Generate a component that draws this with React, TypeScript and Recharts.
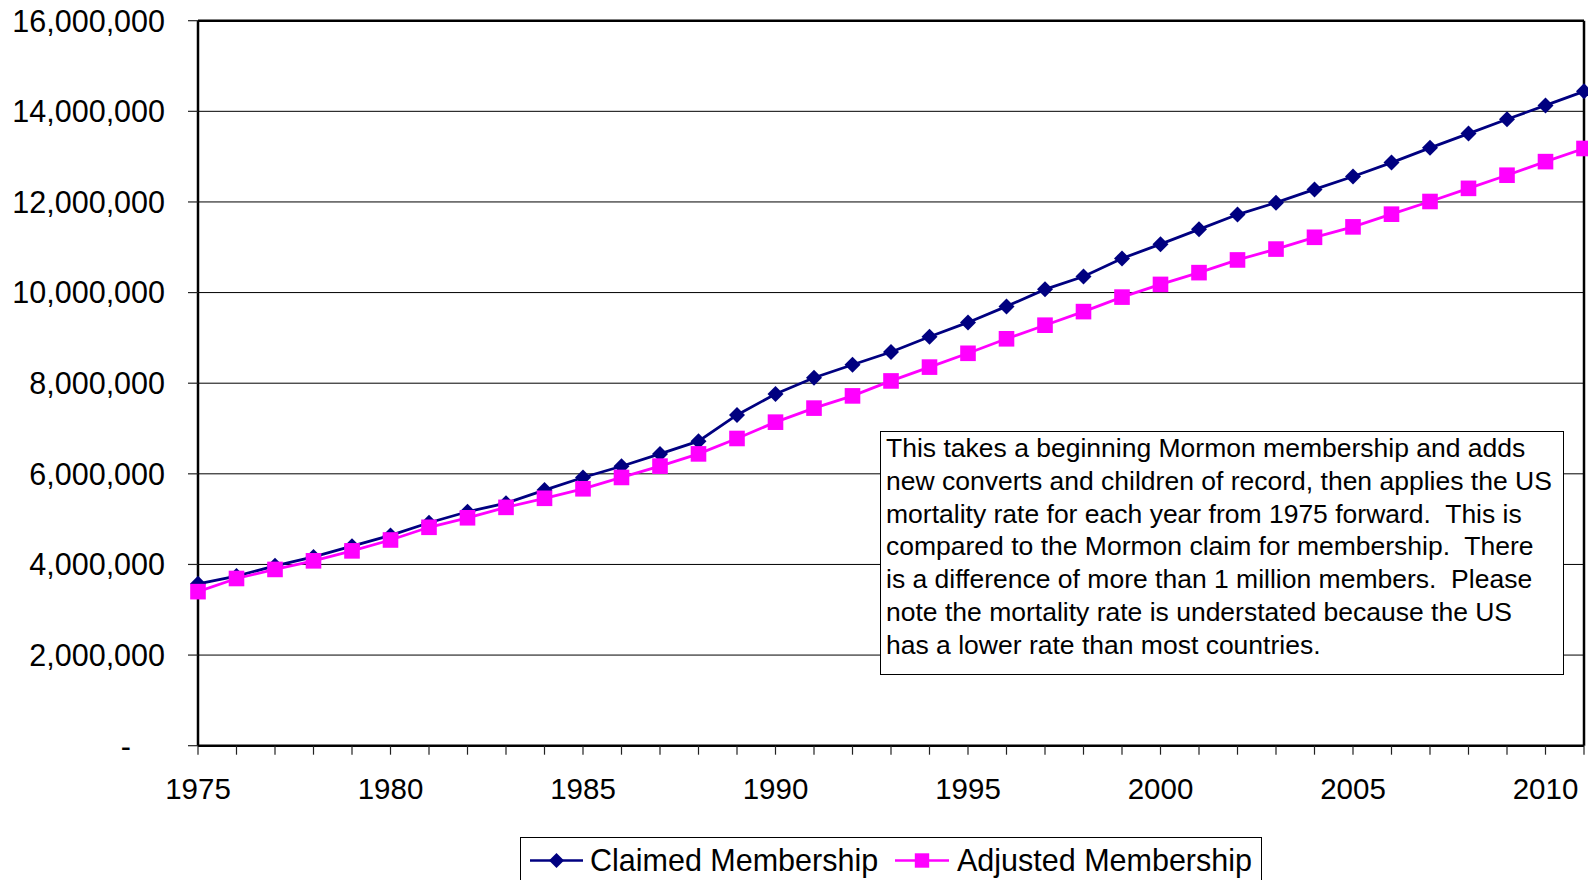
import React from "react";
import {
  CartesianGrid,
  Line,
  LineChart,
  ReferenceLine,
  XAxis,
  YAxis,
} from "recharts";

// years on the x axis
const years = [
  1975, 1976, 1977, 1978, 1979, 1980, 1981, 1982, 1983, 1984, 1985, 1986,
  1987, 1988, 1989, 1990, 1991, 1992, 1993, 1994, 1995, 1996, 1997, 1998,
  1999, 2000, 2001, 2002, 2003, 2004, 2005, 2006, 2007, 2008, 2009, 2010,
  2011,
];
const labelledYears = [1975, 1980, 1985, 1990, 1995, 2000, 2005, 2010];

const claimed = [
  3572000, 3743000, 3969000, 4167000, 4404000, 4640000, 4920000, 5163000,
  5352000, 5641000, 5919000, 6167000, 6440000, 6720000, 7300000, 7761000,
  8120000, 8407000, 8689000, 9026000, 9341000, 9695000, 10071000, 10354000,
  10753000, 11069000, 11395000, 11722000, 11985000, 12276000, 12561000,
  12869000, 13194000, 13509000, 13825000, 14131000, 14441000,
];
const adjusted = [
  3400000, 3690000, 3890000, 4080000, 4300000, 4540000, 4820000, 5030000,
  5260000, 5460000, 5670000, 5920000, 6170000, 6440000, 6780000, 7140000,
  7450000, 7720000, 8050000, 8355000, 8660000, 8980000, 9280000, 9580000,
  9900000, 10180000, 10440000, 10720000, 10960000, 11220000, 11450000,
  11730000, 12010000, 12300000, 12590000, 12890000, 13180000,
];
const yTicks = [
  0, 2000000, 4000000, 6000000, 8000000, 10000000, 12000000, 14000000,
  16000000,
];

const noteLines = [
  "This takes a beginning Mormon membership and adds",
  "new converts and children of record, then applies the US",
  "mortality rate for each year from 1975 forward.  This is",
  "compared to the Mormon claim for membership.  There",
  "is a difference of more than 1 million members.  Please",
  "note the mortality rate is understated because the US",
  "has a lower rate than most countries.",
];

const data = years.map((year, i) => ({
  year,
  claimed: claimed[i],
  adjusted: adjusted[i],
}));

const FONT = '"Liberation Sans", Arial, sans-serif';
const NAVY = "#000080";
const MAGENTA = "#ff00ff";

const Diamond = (props: any) => {
  const { cx, cy, index } = props;
  if (cx == null || cy == null) return null;
  const r = 8;
  return (
    <path
      key={`dm-${index}`}
      d={`M${cx},${cy - r}L${cx + r},${cy}L${cx},${cy + r}L${cx - r},${cy}Z`}
      fill={NAVY}
    />
  );
};

const Square = (props: any) => {
  const { cx, cy, index } = props;
  if (cx == null || cy == null) return null;
  const r = 7.8;
  return (
    <rect
      key={`sq-${index}`}
      x={cx - r}
      y={cy - r}
      width={r * 2}
      height={r * 2}
      fill={MAGENTA}
    />
  );
};

const YTick = (props: any) => {
  const { x, y, payload } = props;
  const v = payload.value as number;
  const zero = v === 0;
  return (
    <text
      x={zero ? x - 34 : x}
      y={y}
      dy="0.355em"
      textAnchor="end"
      fontSize={30.5}
      fontFamily={FONT}
      fill="#000"
    >
      {zero ? "-" : v.toLocaleString("en-US")}
    </text>
  );
};

const XTick = (props: any) => {
  const { x, y, payload } = props;
  if (!labelledYears.includes(payload.value)) return null;
  return (
    <text
      x={x}
      y={y}
      dy="0.71em"
      textAnchor="middle"
      fontSize={29.5}
      fontFamily={FONT}
      fill="#000"
    >
      {payload.value}
    </text>
  );
};

export default function App() {
  return (
    <div
      style={{
        position: "absolute",
        left: 0,
        top: 0,
        width: 1588,
        height: 880,
        overflow: "hidden",
        background: "#fff",
        fontFamily: FONT,
      }}
    >
      <LineChart
        width={1588}
        height={880}
        data={data}
        margin={{ top: 20.7, right: 4, left: 0, bottom: 0 }}
      >
        <CartesianGrid vertical={false} stroke="#000" strokeWidth={1} />
        <XAxis
          dataKey="year"
          type="number"
          domain={[1975, 2011]}
          ticks={years}
          interval={0}
          height={134.3}
          tickSize={9}
          tickMargin={23}
          tick={<XTick />}
          axisLine={{ stroke: "#000", strokeWidth: 2.5 }}
          tickLine={{ stroke: "#222", strokeWidth: 1.2 }}
        />
        <YAxis
          domain={[0, 16000000]}
          ticks={yTicks}
          interval={0}
          width={198}
          tickSize={10}
          tickMargin={23}
          tick={<YTick />}
          axisLine={{ stroke: "#000", strokeWidth: 2.5 }}
          tickLine={{ stroke: "#222", strokeWidth: 1.2 }}
        />
        <ReferenceLine y={16000000} stroke="#000" strokeWidth={2.5} />
        <ReferenceLine x={2011} stroke="#000" strokeWidth={2.5} />
        <Line
          type="linear"
          dataKey="claimed"
          stroke={NAVY}
          strokeWidth={2.8}
          dot={<Diamond />}
          activeDot={false}
          isAnimationActive={false}
        />
        <Line
          type="linear"
          dataKey="adjusted"
          stroke={MAGENTA}
          strokeWidth={2.8}
          dot={<Square />}
          activeDot={false}
          isAnimationActive={false}
        />
      </LineChart>

      {/* note box */}
      <div
        style={{
          position: "absolute",
          left: 880,
          top: 431,
          width: 684,
          height: 244,
          boxSizing: "border-box",
          border: "1.5px solid #000",
          background: "#fff",
          padding: "0 0 0 5px",
          fontSize: 26.5,
          lineHeight: "32.8px",
          color: "#000",
        }}
      >
        {noteLines.map((l) => (
          <div key={l} style={{ whiteSpace: "pre" }}>
            {l}
          </div>
        ))}
      </div>

      {/* legend */}
      <div
        style={{
          position: "absolute",
          left: 520,
          top: 837,
          width: 742,
          height: 70,
          boxSizing: "border-box",
          border: "1.5px solid #000",
          background: "#fff",
        }}
      >
        <svg width={742} height={50} style={{ position: "absolute", left: 0, top: 0 }}>
          <line x1={9} x2={62} y1={22.5} y2={22.5} stroke={NAVY} strokeWidth={2.5} />
          <path d="M35.5,15L43,22.5L35.5,30L28,22.5Z" fill={NAVY} />
          <text x={69} y={22.5} dy="0.355em" fontSize={30.5} fontFamily={FONT} fill="#000">
            Claimed Membership
          </text>
          <line x1={374} x2={428} y1={22.5} y2={22.5} stroke={MAGENTA} strokeWidth={2.5} />
          <rect x={393.8} y={15.3} width={14.4} height={14.4} fill={MAGENTA} />
          <text x={436} y={22.5} dy="0.355em" fontSize={30.5} fontFamily={FONT} fill="#000">
            Adjusted Membership
          </text>
        </svg>
      </div>
    </div>
  );
}
